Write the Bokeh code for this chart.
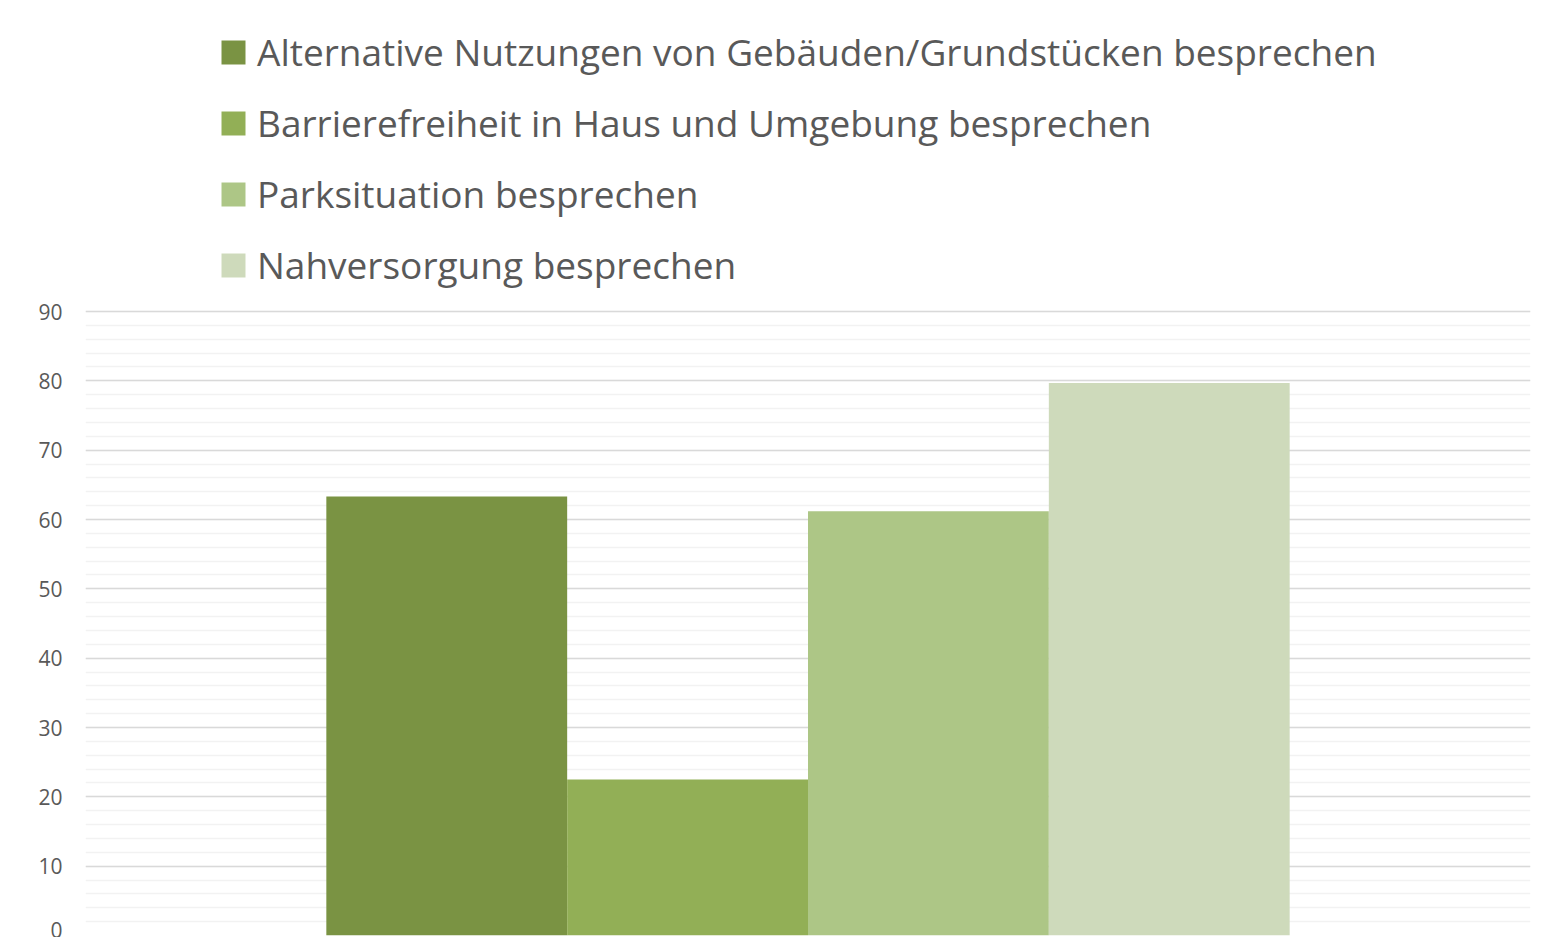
from bokeh.plotting import figure
from bokeh.models import Range1d, SingleIntervalTicker, Legend, LegendItem, ColumnDataSource
from bokeh.embed import file_html
from bokeh.resources import INLINE

categories = ["Alternative Nutzungen von Gebäuden/Grundstücken besprechen",
              "Barrierefreiheit in Haus und Umgebung besprechen",
              "Parksituation besprechen",
              "Nahversorgung besprechen"]
values = [63.3, 22.5, 61.2, 79.7]
colors = ["#7a9343", "#92af56", "#adc686", "#cedabb"]
y_max = 90

FONT = "Open Sans"
TXT = "#595959"

H = 937
BOTTOM = 2
PLOT_H = 624          # pixel height of the 0..90 value area
frame_h = H - BOTTOM
y_end = y_max * frame_h / PLOT_H   # empty headroom above 90 holds the legend

p = figure(width=1548, height=H, output_backend="svg", toolbar_location=None,
           x_range=Range1d(0, 6), y_range=Range1d(0, y_end), x_axis_location=None,
           min_border_left=85, min_border_right=18, min_border_top=0, min_border_bottom=BOTTOM)
p.outline_line_color = None
p.background_fill_color = "white"
p.border_fill_color = "white"
p.xgrid.visible = False

xs = [i + 1.5 for i in range(len(values))]
items = []
for i, (c, v, col) in enumerate(zip(categories, values, colors)):
    src = ColumnDataSource(dict(x=[xs[i]], top=[v]))
    r = p.vbar(x="x", top="top", bottom=0, width=1.0, source=src, fill_color=col, line_color=None)
    items.append(LegendItem(label=c, renderers=[r]))

tk = SingleIntervalTicker(interval=10, num_minor_ticks=5)
p.yaxis.ticker = tk
p.yaxis.bounds = (0, y_max)
p.ygrid.ticker = tk
p.ygrid.bounds = (0, y_max)
p.yaxis.axis_line_color = None
p.yaxis.major_tick_line_color = None
p.yaxis.minor_tick_line_color = None
p.yaxis.major_tick_out = 0
p.yaxis.major_tick_in = 0
p.yaxis.minor_tick_out = 0
p.yaxis.minor_tick_in = 0
p.yaxis.major_label_standoff = 23
p.yaxis.major_label_text_font = FONT
p.yaxis.major_label_text_font_size = "21px"
p.yaxis.major_label_text_color = TXT
p.ygrid.grid_line_color = "#d9d9d9"
p.ygrid.grid_line_width = 1.5
p.ygrid.minor_grid_line_color = "#f2f2f2"
p.ygrid.minor_grid_line_width = 1.5
p.ygrid.level = "underlay"

legend = Legend(items=items, location=(133, 645), orientation="vertical",
                glyph_width=30, glyph_height=30, label_height=40, spacing=20,
                label_standoff=9, padding=0, margin=0,
                label_text_font=FONT, label_text_font_size="37px", label_text_color=TXT,
                border_line_color=None, background_fill_alpha=0)
p.add_layout(legend, "center")

open("out.html", "w").write(file_html(p, INLINE))
